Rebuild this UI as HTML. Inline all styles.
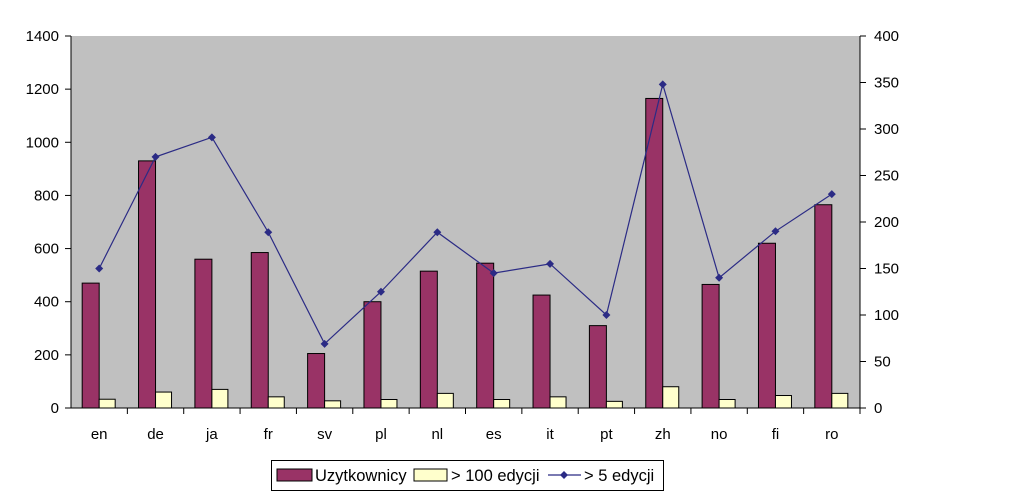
<!DOCTYPE html>
<html><head><meta charset="utf-8"><style>
body{margin:0;background:#fff;width:1024px;height:502px;overflow:hidden}
svg{display:block;font-family:"Liberation Sans",sans-serif}
</style></head><body>
<svg id="s" width="1024" height="502" xmlns="http://www.w3.org/2000/svg"></svg>
<script>
var L=71,R=860,T=36,B=408,H=B-T,W=R-L,n=14,cw=W/n;
var cats=["en","de","ja","fr","sv","pl","nl","es","it","pt","zh","no","fi","ro"];
var u=[470,930,560,585,205,400,515,545,425,310,1165,465,620,765];
var y1=[33,60,70,42,27,32,55,32,42,25,80,32,47,55];
var ln=[150,270,291,189,69,125,189,145,155,100,348,140,190,230];
var s='<rect x="'+L+'" y="'+T+'" width="'+W+'" height="'+H+'" fill="#c0c0c0"/>';
function yl(v){return B-v/1400*H}function yr(v){return B-v/400*H}
for(var i=0;i<n;i++){var c=L+cw*(i+0.5);
s+='<rect x="'+(c-17)+'" y="'+yl(u[i])+'" width="17" height="'+(B-yl(u[i]))+'" fill="#993366" stroke="#000" stroke-width="1"/>';
s+='<rect x="'+c+'" y="'+yl(y1[i])+'" width="16" height="'+(B-yl(y1[i]))+'" fill="#ffffcc" stroke="#000" stroke-width="1"/>';
s+='<text x="'+c+'" y="439" font-size="15" text-anchor="middle">'+cats[i]+'</text>';
s+='<line x1="'+(L+cw*(i+1))+'" y1="'+B+'" x2="'+(L+cw*(i+1))+'" y2="'+(B+6)+'" stroke="#000"/>';}
var p='';for(var i=0;i<n;i++){p+=(L+cw*(i+0.5))+','+yr(ln[i])+' ';}
s+='<polyline points="'+p+'" fill="none" stroke="#2b2b85" stroke-width="1.2"/>';
for(var i=0;i<n;i++){var x=L+cw*(i+0.5),y=yr(ln[i]);s+='<polygon points="'+x+','+(y-4)+' '+(x+4)+','+y+' '+x+','+(y+4)+' '+(x-4)+','+y+'" fill="#2b2b85"/>';}
s+='<line x1="'+L+'" y1="'+T+'" x2="'+L+'" y2="'+B+'" stroke="#000"/><line x1="'+R+'" y1="'+T+'" x2="'+R+'" y2="'+B+'" stroke="#000"/><line x1="'+(L-6)+'" y1="'+B+'" x2="'+(R+6)+'" y2="'+B+'" stroke="#000"/>';
for(var v=0;v<=1400;v+=200){var y=yl(v);s+='<line x1="'+(L-6)+'" y1="'+y+'" x2="'+L+'" y2="'+y+'" stroke="#000"/><text x="'+(L-12)+'" y="'+(y+5)+'" font-size="15" text-anchor="end">'+v+'</text>';}
for(var v=0;v<=400;v+=50){var y=yr(v);s+='<line x1="'+R+'" y1="'+y+'" x2="'+(R+6)+'" y2="'+y+'" stroke="#000"/><text x="'+(R+14)+'" y="'+(y+5)+'" font-size="15">'+v+'</text>';}
s+='<rect x="271.5" y="460.5" width="392" height="30" fill="#fff" stroke="#000"/>';
s+='<rect x="277" y="469" width="35" height="12" fill="#993366" stroke="#000"/><text x="315" y="481" font-size="16.5">Uzytkownicy</text>';
s+='<rect x="414" y="469" width="33" height="12" fill="#ffffcc" stroke="#000"/><text x="451" y="481" font-size="16.5">&gt; 100 edycji</text>';
s+='<line x1="548" y1="475" x2="581" y2="475" stroke="#2b2b85" stroke-width="1.2"/><polygon points="564,471 568,475 564,479 560,475" fill="#2b2b85"/><text x="584" y="481" font-size="16.5">&gt; 5 edycji</text>';
document.getElementById('s').innerHTML=s;
</script>
</body></html>
